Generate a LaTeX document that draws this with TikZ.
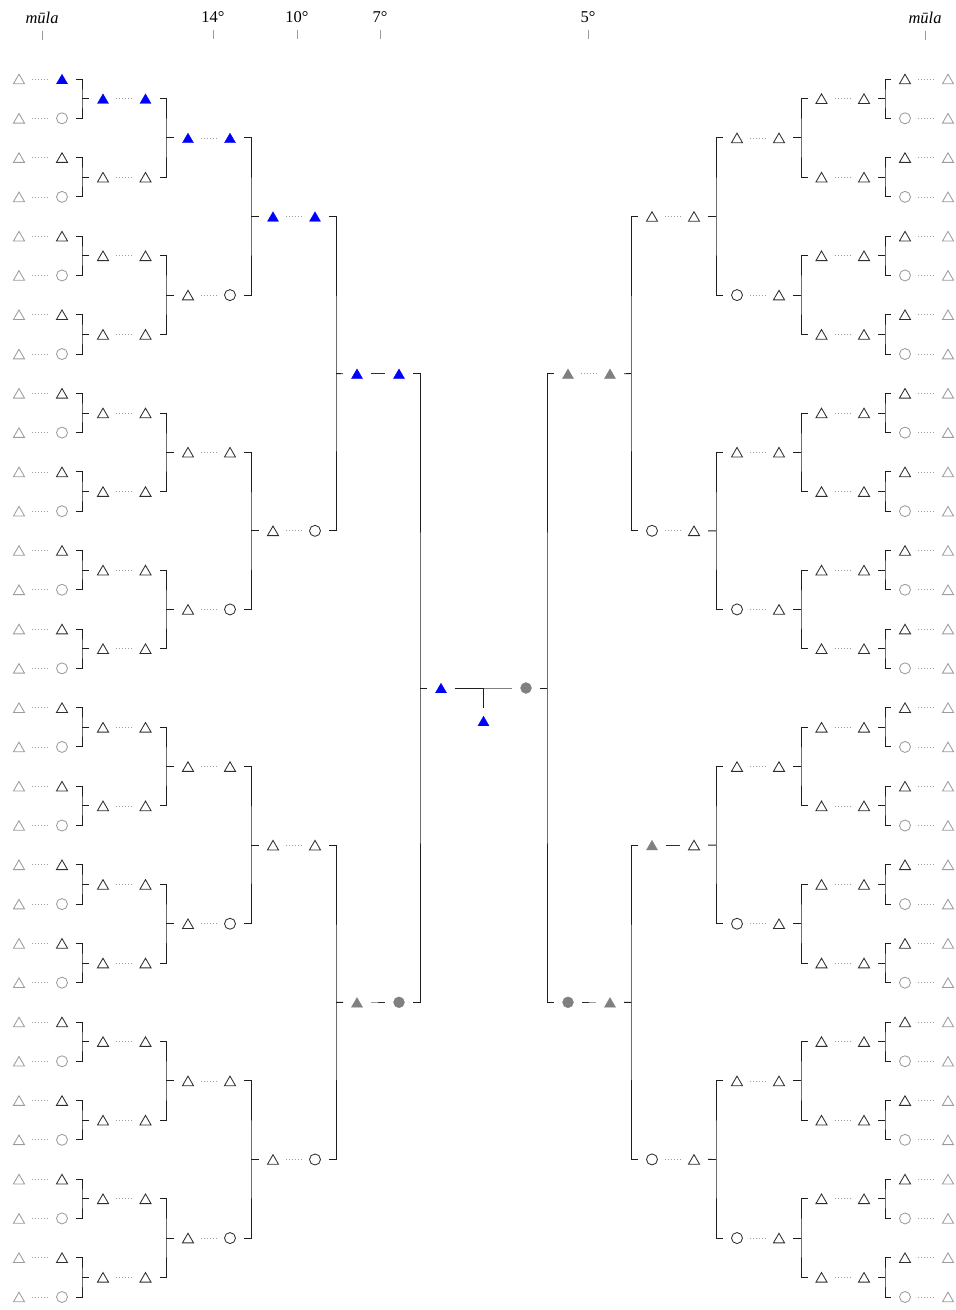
\documentclass[tikz,border=0pt]{standalone}
\usepackage{fontspec}
\setmainfont{Liberation Serif}
\usetikzlibrary{shapes.geometric}
\definecolor{dk}{HTML}{2E2E2E}
\definecolor{lg}{HTML}{9C9C9C}
\definecolor{fg}{HTML}{808080}
\definecolor{bl}{HTML}{0000FF}
\definecolor{ln}{HTML}{1E1E1E}
\tikzset{
  sym/.style={inner sep=0pt, outer sep=0pt, line width=0.85pt},
  tri/.style={sym, regular polygon, regular polygon sides=3, minimum size=12.8pt, yshift=-1.6pt},
  cir/.style={sym, circle, minimum size=11pt},
  dtri/.style={tri, draw=dk},
  gtri/.style={tri, draw=lg},
  btri/.style={tri, fill=bl, draw=bl, line width=0.3pt},
  ftri/.style={tri, fill=fg, draw=fg, line width=0.3pt},
  dcir/.style={cir, draw=dk},
  gcir/.style={cir, draw=lg},
  fcir/.style={cir, fill=fg, draw=fg, line width=0.3pt},
  dots/.style={draw=lg, line width=0.7pt, dash pattern=on 0.7pt off 2.3pt, shorten <=13pt, shorten >=13pt},
  solidlink/.style={draw=dk, line width=0.9pt, shorten <=14pt, shorten >=14pt},
  nolink/.style={draw=none},
  conn/.style={draw=ln, line width=0.9pt},
  lbl/.style={font=\fontsize{16.5}{18}\selectfont, anchor=base, inner sep=0pt},
  tickmark/.style={draw=lg, line width=0.7pt},
}
% left-side pair: out stub on the right, in stub on the left
\newcommand\symL[7]{%
  \coordinate (#1-a) at (#2,#4);
  \coordinate (#1-b) at (#3,#4);
  \coordinate (#1-o) at (#3+14,#4);
  \coordinate (#1-i) at (#2-14,#4);
  \node[#5] (#1-A) at (#1-a) {};
  \node[#6] (#1-B) at (#1-b) {};
  \draw[#7] (#1-a) -- (#1-b);
}
% right-side pair: out stub on the left, in stub on the right
\newcommand\symR[7]{%
  \coordinate (#1-a) at (#2,#4);
  \coordinate (#1-b) at (#3,#4);
  \coordinate (#1-o) at (#2-14,#4);
  \coordinate (#1-i) at (#3+14,#4);
  \node[#5] (#1-A) at (#1-a) {};
  \node[#6] (#1-B) at (#1-b) {};
  \draw[#7] (#1-a) -- (#1-b);
}
\begin{document}
\begin{tikzpicture}[x=1pt,y=-1pt]
\useasboundingbox (0,0) rectangle (956,1310);

% ---- header labels and ticks
\node[lbl, font=\fontsize{16.5}{18}\selectfont\itshape] (hA) at (42,23) {mūla};
\node[lbl] (hB) at (213,22.7) {14°};
\node[lbl] (hC) at (297,22.7) {10°};
\node[lbl] (hD) at (380,22.7) {7°};
\node[lbl] (hE) at (588,22.7) {5°};
\node[lbl, font=\fontsize{16.5}{18}\selectfont\itshape] (hF) at (925,23) {mūla};
\foreach \h in {hA,hB,hC,hD,hE,hF}{
  \draw[tickmark] (\h.base) ++(0,7.5) -- ++(0,9);
}

% ================= LEFT SIDE =================
% level 0
\foreach \k in {0,...,31}{
  \pgfmathsetmacro\yy{79+39.29*\k}
  \ifodd\k \def\sB{gcir}\else \ifnum\k=0 \def\sB{btri}\else \def\sB{dtri}\fi\fi
  \edef\tmp{\noexpand\symL{L0-\k}{19}{62}{\yy}{gtri}{\sB}{dots}}\tmp
}
% level 1
\foreach \k in {0,...,15}{
  \pgfmathsetmacro\yy{79+39.29*(2*\k+0.5)}
  \ifnum\k=0 \def\sA{btri}\def\sB{btri}\else \def\sA{dtri}\def\sB{dtri}\fi
  \edef\tmp{\noexpand\symL{L1-\k}{103}{145.5}{\yy}{\sA}{\sB}{dots}}\tmp
}
% level 2
\foreach \k in {0,...,7}{
  \pgfmathsetmacro\yy{79+39.29*(4*\k+1.5)}
  \ifnum\k=0 \def\sA{btri}\def\sB{btri}\else \def\sA{dtri}\ifodd\k \def\sB{dcir}\else \def\sB{dtri}\fi\fi
  \edef\tmp{\noexpand\symL{L2-\k}{188}{230}{\yy}{\sA}{\sB}{dots}}\tmp
}
% level 3
\foreach \k in {0,...,3}{
  \pgfmathsetmacro\yy{79+39.29*(8*\k+3.5)}
  \ifnum\k=0 \def\sA{btri}\def\sB{btri}\else \def\sA{dtri}\ifodd\k \def\sB{dcir}\else \def\sB{dtri}\fi\fi
  \edef\tmp{\noexpand\symL{L3-\k}{273}{315}{\yy}{\sA}{\sB}{dots}}\tmp
}
% level 4
\symL{L4-0}{357}{399}{373.7}{btri}{btri}{solidlink}
\symL{L4-1}{357}{399}{1002.3}{ftri}{fcir}{nolink}
\coordinate (L4-1-m) at (378,1002.3);
\draw[solidlink, draw=lg, shorten >=0pt] (L4-1-a) -- (L4-1-m);
\draw[solidlink, shorten <=0pt] (L4-1-m) -- (L4-1-b);

% left brackets
\foreach \l/\vx/\n in {0/82/15, 1/166/7, 2/251/3, 3/336/1}{
  \pgfmathtruncatemacro\p{\l+1}
  \foreach \k in {0,...,\n}{
    \pgfmathtruncatemacro\ca{2*\k}
    \pgfmathtruncatemacro\cb{2*\k+1}
    \pgfmathsetmacro\yp{79+39.29*(2^\p*\k+(2^\p-1)/2)}
    \coordinate (LV-\p-\k) at (\vx,\yp);
    \draw[conn] (L\l-\ca-o) -| (LV-\p-\k) |- (L\l-\cb-o);
    \draw[conn] (LV-\p-\k) -- (L\p-\k-i);
  }
}

% ================= RIGHT SIDE =================
% level 0
\foreach \k in {0,...,31}{
  \pgfmathsetmacro\yy{79+39.29*\k}
  \ifodd\k \def\sA{gcir}\else \def\sA{dtri}\fi
  \edef\tmp{\noexpand\symR{R0-\k}{905}{948}{\yy}{\sA}{gtri}{dots}}\tmp
}
% level 1
\foreach \k in {0,...,15}{
  \pgfmathsetmacro\yy{79+39.29*(2*\k+0.5)}
  \edef\tmp{\noexpand\symR{R1-\k}{821.5}{864}{\yy}{dtri}{dtri}{dots}}\tmp
}
% level 2
\foreach \k in {0,...,7}{
  \pgfmathsetmacro\yy{79+39.29*(4*\k+1.5)}
  \ifodd\k \def\sA{dcir}\else \def\sA{dtri}\fi
  \edef\tmp{\noexpand\symR{R2-\k}{737}{779}{\yy}{\sA}{dtri}{dots}}\tmp
}
% level 3
\symR{R3-0}{652}{694}{216.5}{dtri}{dtri}{dots}
\symR{R3-1}{652}{694}{530.8}{dcir}{dtri}{dots}
\symR{R3-2}{652}{694}{845.1}{ftri}{dtri}{solidlink}
\symR{R3-3}{652}{694}{1159.4}{dcir}{dtri}{dots}
% level 4
\symR{R4-0}{568}{610}{373.7}{ftri}{ftri}{dots}
\symR{R4-1}{568}{610}{1002.3}{fcir}{ftri}{nolink}
\coordinate (R4-1-m) at (589,1002.3);
\draw[solidlink, shorten >=0pt] (R4-1-a) -- (R4-1-m);
\draw[solidlink, draw=lg, shorten <=0pt] (R4-1-m) -- (R4-1-b);

% right brackets
\foreach \l/\vx/\n in {0/885/15, 1/801/7, 2/716/3, 3/631/1}{
  \pgfmathtruncatemacro\p{\l+1}
  \foreach \k in {0,...,\n}{
    \pgfmathtruncatemacro\ca{2*\k}
    \pgfmathtruncatemacro\cb{2*\k+1}
    \pgfmathsetmacro\yp{79+39.29*(2^\p*\k+(2^\p-1)/2)}
    \coordinate (RV-\p-\k) at (\vx,\yp);
    \draw[conn] (R\l-\ca-o) -| (RV-\p-\k) |- (R\l-\cb-o);
    \draw[conn] (RV-\p-\k) -- (R\p-\k-i);
  }
}

% ================= CENTRE =================
\coordinate (C-a) at (441,688);
\coordinate (C-b) at (526,688);
\coordinate (C-m) at (483.5,688);
\coordinate (C-d) at (483.5,708);
\coordinate (C-li) at (427,688);
\coordinate (C-ri) at (540,688);
\node[btri] (C-A) at (C-a) {};
\node[fcir] (C-B) at (C-b) {};
\node[btri] (C-D) at (483.5,721) {};
\draw[solidlink, draw=ln, shorten >=0pt] (C-a) -- (C-m);
\draw[solidlink, draw=fg, shorten <=0pt] (C-m) -- (C-b);
\draw[conn] (C-m) -- (C-d);

\coordinate (LV-5) at (420,688);
\draw[conn] (L4-0-o) -| (LV-5) |- (L4-1-o);
\draw[conn] (LV-5) -- (C-li);
\coordinate (RV-5) at (547,688);
\draw[conn] (R4-0-o) -| (RV-5) |- (R4-1-o);
\draw[conn] (RV-5) -- (C-ri);
\end{tikzpicture}
\end{document}
